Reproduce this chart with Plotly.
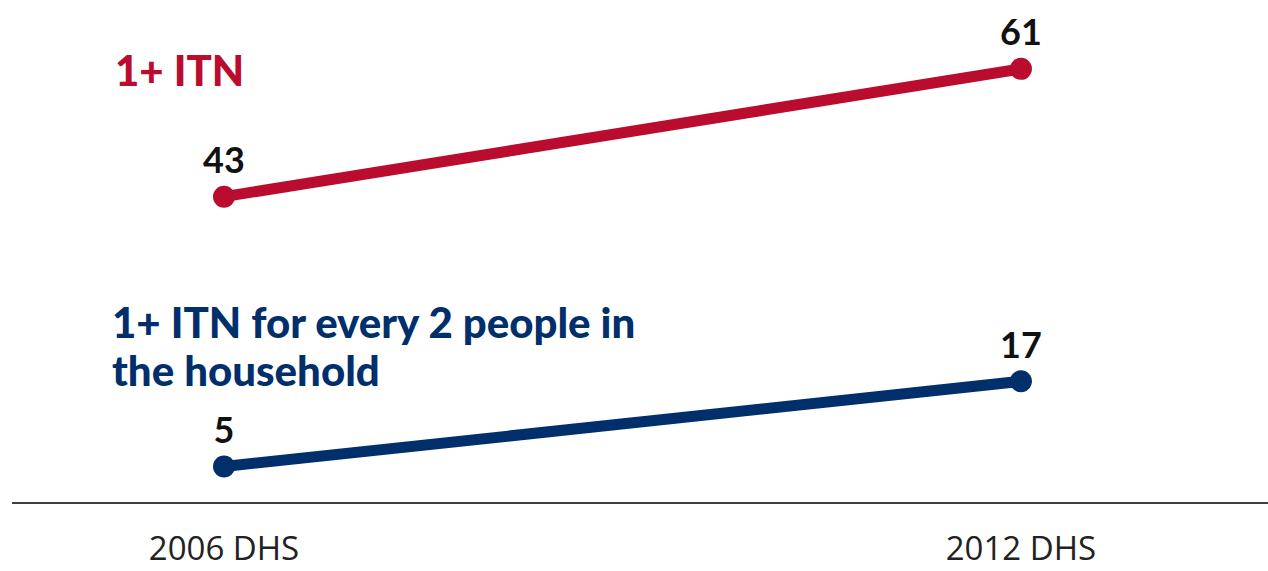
import plotly.graph_objects as go

# Survey rounds and household ITN ownership (%)
surveys = ["2006 DHS", "2012 DHS"]
any_itn = [43, 61]
itn_per_two = [5, 17]

red_label_lines = ["1+ ITN"]
blue_label_lines = ["1+ ITN for every 2 people in", "the household"]
RED = "#BA0C2F"
BLUE = "#002F6C"

x_pos = list(range(len(surveys)))

fig = go.Figure()
for vals, color in [(any_itn, RED), (itn_per_two, BLUE)]:
    fig.add_trace(go.Scatter(
        x=x_pos, y=vals,
        mode="lines+markers+text",
        line=dict(color=color, width=11),
        marker=dict(color=color, size=22),
        text=[str(v) for v in vals],
        textposition="top center",
        textfont=dict(family="Lato", size=36, color="#111111", weight="bold"),
        cliponaxis=False,
        showlegend=False,
        hoverinfo="skip",
    ))

# Series labels placed beside the lines, one annotation per text line
label_font = dict(family="Lato", size=42, weight=900)
for lines, color, x0, y_lines in [
    (red_label_lines, RED, 0.0804, [0.861]),
    (blue_label_lines, BLUE, 0.078, [0.3586, 0.263]),
]:
    for line_text, y0 in zip(lines, y_lines):
        fig.add_annotation(
            text=line_text, xref="paper", yref="paper",
            x=x0, y=y0, xanchor="left", yanchor="middle", showarrow=False,
            font=dict(color=color, **label_font), align="left",
        )

fig.update_layout(
    width=1268, height=571,
    margin=dict(l=12, r=0, t=0, b=69, autoexpand=False),
    paper_bgcolor="white", plot_bgcolor="white",
    xaxis=dict(
        range=[-0.266, 1.310],
        tickvals=x_pos, ticktext=surveys,
        showgrid=False, zeroline=False,
        showline=True, linecolor="#404040", linewidth=2,
        ticks="", ticklabelstandoff=16, automargin=False,
        tickfont=dict(family="Open Sans", size=33, color="#222222"),
        fixedrange=True,
    ),
    yaxis=dict(range=[0, 70.7], visible=False, fixedrange=True, automargin=False),
)

fig.write_html("out.html")
